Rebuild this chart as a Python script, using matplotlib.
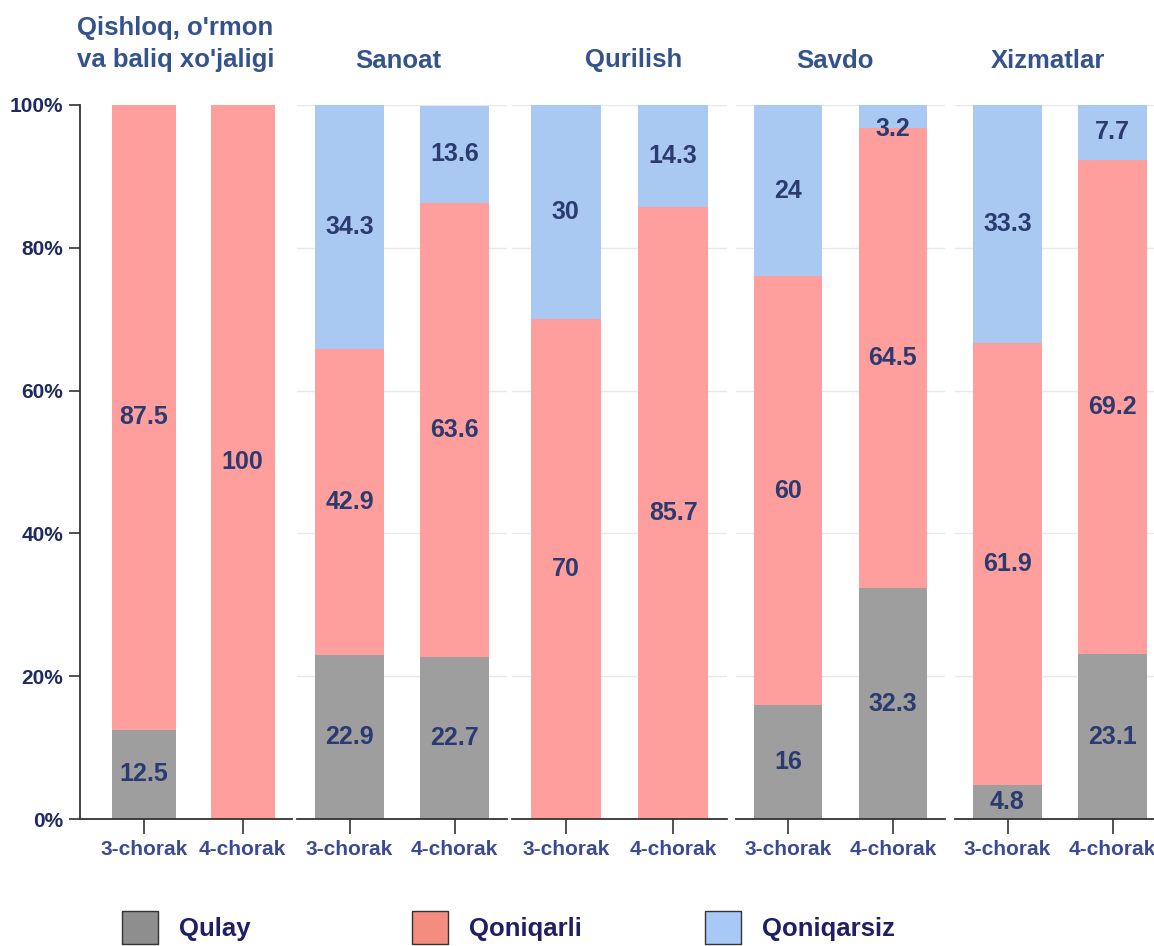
import matplotlib
matplotlib.use('Agg')
import matplotlib.pyplot as plt
from matplotlib.patches import Patch
import numpy as np

plt.rcParams['font.family'] = ['Liberation Sans', 'DejaVu Sans']
plt.rcParams['font.weight'] = 'bold'

# data
sectors = ["Qishloq, o'rmon\nva baliq xo'jaligi", 'Sanoat', 'Qurilish', 'Savdo', 'Xizmatlar']
quarters = ['3-chorak', '4-chorak']
qulay = [[12.5, 0], [22.9, 22.7], [0, 0], [16, 32.3], [4.8, 23.1]]
qoniqarli = [[87.5, 100], [42.9, 63.6], [70, 85.7], [60, 64.5], [61.9, 69.2]]
qoniqarsiz = [[0, 0], [34.3, 13.6], [30, 14.3], [24, 3.2], [33.3, 7.7]]
series_names = ['Qulay', 'Qoniqarli', 'Qoniqarsiz']

bar_colors = ['#9e9e9e', '#ff9f9d', '#a9c8f2']
legend_colors = ['#8e8e8e', '#f28d7f', '#a8c8f5']
title_color = '#34528c'
label_color = '#2b3b70'
tick_color = '#3b4a94'

W, H = 1154, 946
fig = plt.figure(figsize = (W / 100, H / 100), dpi = 100)

# panel extents in pixels (left, right), x-limits, title position
panels = [(80, 292, (-0.65, 1.5), 0.45), (297, 507, (-0.5, 1.5), 0.48),
          (512, 727, (-0.5, 1.5), 0.565), (736, 945, (-0.5, 1.5), 0.475),
          (955, 1165, (-0.5, 1.5), 0.445)]
top_px, bot_px = 105, 819

x = np.arange(len(quarters))
for i, (l, r, xlim, tx) in enumerate(panels):
    ax = fig.add_axes([l / W, 1 - bot_px / H, (r - l) / W, (bot_px - top_px) / H])
    ax.set_xlim(*xlim)
    ax.set_ylim(0, 100)

    bottom = np.zeros(len(quarters))
    for vals, c in zip([qulay[i], qoniqarli[i], qoniqarsiz[i]], bar_colors):
        vals = np.array(vals)
        ax.bar(x, vals, 0.65, bottom = bottom, color = c, zorder = 2)
        for xi, v, b in zip(x, vals, bottom):
            if v > 0:
                ymid = min(b + v / 2, 96.6)
                ax.text(xi, ymid, f'{v:g}', ha = 'center', va = 'center',
                        fontsize = 18, color = label_color, fontweight = 'bold', zorder = 3)
        bottom = bottom + vals

    for s in ['top', 'right']:
        ax.spines[s].set_visible(False)
    ax.spines['bottom'].set_color('#333333')
    ax.spines['bottom'].set_linewidth(1.3)
    ax.set_xticks(x)
    ax.set_xticklabels(quarters, fontsize = 15, color = tick_color, fontweight = 'bold')
    ax.tick_params(axis = 'x', length = 11, width = 1.2, color = '#333333', pad = 4)

    if i == 0:
        ax.spines['left'].set_color('#333333')
        ax.spines['left'].set_linewidth(1.3)
        ax.set_yticks(range(0, 101, 20))
        ax.set_yticklabels([f'{t}%' for t in range(0, 101, 20)], fontsize = 15,
                           color = '#1f2a60', fontweight = 'bold')
        ax.tick_params(axis = 'y', length = 8, width = 1.2, color = '#333333', pad = 4)
    else:
        ax.spines['left'].set_visible(False)
        ax.set_yticks(range(20, 101, 20))
        ax.tick_params(axis = 'y', length = 0, labelleft = False)
        ax.grid(axis = 'y', color = '#e8e8e8', linewidth = 1, zorder = 0)
    ax.set_axisbelow(True)

    ax.set_title(sectors[i], fontsize = 18.5, color = title_color, fontweight = 'bold',
                 pad = 27, linespacing = 1.45, x = tx)

# legend
leg_x = [122, 412, 705]
for name, c, lx in zip(series_names, legend_colors, leg_x):
    handle = Patch(facecolor = c, edgecolor = '#333333', linewidth = 1)
    fig.legend([handle], [name], loc = 'upper left', bbox_to_anchor = (lx / W, 1 - 911 / H),
               frameon = False, handlelength = 1.4, handleheight = 1.6,
               handletextpad = 0.8, borderpad = 0, borderaxespad = 0,
               labelcolor = '#1f1f66', prop = {'weight': 'bold', 'size': 18.5})

fig.savefig('out.png', dpi = 100)
